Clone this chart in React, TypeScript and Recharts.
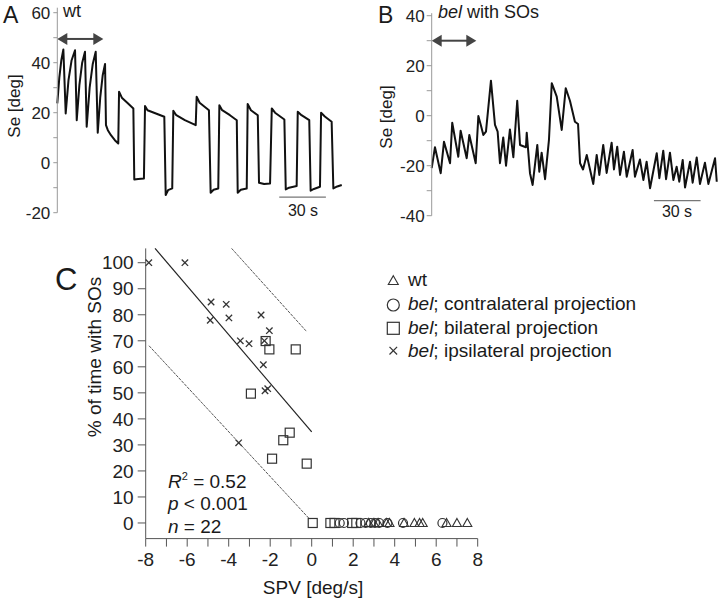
import React from 'react';
import { LineChart, Line, XAxis, YAxis, ReferenceLine, ScatterChart, Scatter } from 'recharts';

const FONT = "'Liberation Sans', Arial, Helvetica, sans-serif";

// Panel A: wt trace (time in s, Se in deg)
const traceATime = [0,1.3,2.6,3.9,5.4,7.2,9.2,11.4,12.5,14.2,16.0,17.8,18.9,20.8,22.8,24.7,26.0,27.6,29.2,30.7,31.3,32.5,34.5,37,39.2,39.7,41.5,45,48.9,49.5,52,55.7,56.4,58,63,68.8,69.7,71.2,73.9,74.6,76.5,82,89.0,89.6,91.5,97.5,98.6,100.5,103.5,104.2,106,111,115.4,116,118,121.8,122.4,124.5,128.9,129.7,133,136.8,137.9,140,146.0,146.9,149,153.9,154.6,157,162.0,162.9,165,168.9,169.6,172,176.4,177.5,180,182.9];
const traceASe = [23.7,34,41,45.3,19.7,33,41,45,17,31,40,44.4,14.4,30,39.5,44.4,12,26,35,39.5,15,13,11,9,7.7,28.4,26,24,21.7,-6.7,-6.5,-6.3,22.7,21,19.8,18.4,-12.9,-11,-10.3,20.8,19,17,15,26.4,24,21,-12,-10.8,-10.3,23,21,19,17,-12,-10.8,-10.3,23.5,21,19,-8,-8.5,-8.3,21.7,20,17.3,-10.7,-10,-9.3,20.4,19,17,-11.2,-10.5,-9.6,20,18.5,16.4,-10.3,-9.5,-8.9];

// Panel B: bel with SOs trace
const traceBTime = [0,2.1,5.8,7.9,11.8,13.2,17.1,18.6,22.5,24.2,28.3,30.0,31.7,33.2,34.9,38.1,40.7,42.4,43.9,46.0,47.8,50.3,52.5,55.0,56.8,60.6,61.1,63.2,64.9,67.9,69.2,70.7,72.9,75.4,77.2,80.4,83.6,86.2,88.9,92.1,94.1,95.4,97.3,99.7,103.9,106.1,107.8,110.3,112.5,115.7,117.2,119.3,121.1,123.6,125.4,129.2,130.7,133.9,136.1,138.2,140.4,144.7,146.4,148.9,150.7,153.2,155.4,157.5,159.2,161.4,162.9,166.1,167.8,170.4,172.5,175.7,177.9,182.2,183.3];
const traceBSe = [-21,-12.6,-23,-10.4,-19,-2.8,-16.4,-6,-17,-7.7,-19,-0.1,-4,-7.7,-6.4,14,-3.7,-6.4,-19,-8.7,-20,-5.5,-16.6,6,-11.7,-12.6,-6.8,-23,-27.7,-11.7,-22.4,-14.8,-25.4,-9.7,13,7.6,-5.7,11,6,-2.4,-3.3,-19,-21.5,-15.7,-27.3,-15.7,-23.7,-11.7,-22.9,-10.8,-21.5,-12.4,-23.7,-14.4,-24.4,-13.7,-24.4,-17.5,-25.7,-18.4,-29,-15,-25,-14,-25.4,-14.8,-25.7,-20.4,-26.4,-17.7,-28.7,-18.4,-26.8,-16.7,-27.3,-18.8,-27.3,-17,-26.4];

const ticksA = [-20,-10,0,10,20,30,40,50,60];
const ticksB = [-40,-30,-20,-10,0,10,20,30,40];
const spvTicks = [-8,-7,-6,-5,-4,-3,-2,-1,0,1,2,3,4,5,6,7,8];
const pctTicks = [0,10,20,30,40,50,60,70,80,90,100];

// Panel C scatter
const ipsiSPV = [-7.85,-6.11,-4.85,-4.12,-4.89,-3.99,-2.44,-2.04,-3.44,-3.02,-2.28,-2.33,-2.25,-2.12,-3.52];
const ipsiPct = [100,100,84.9,84.0,77.9,78.8,79.9,73.9,70.0,68.9,70.0,60.8,50.8,51.6,30.8];
const bilatSPV = [-2.22,-2.04,-0.77,-2.93,-1.06,-1.37,-1.91,-0.24,0.05,0.9,1.1,1.95,2.15];
const bilatPct = [69.9,66.7,66.7,49.7,34.7,31.8,24.7,22.8,0,0,0,0,0];
const contraSPV = [1.35,1.55,2.35,2.6,2.85,3.05,3.25,3.65,4.4,6.3];
const contraPct = [0,0,0,0,0,0,0,0,0,0];
const wtSPV = [2.75,3.0,3.2,3.6,3.75,4.45,4.95,5.2,5.35,6.5,7.0,7.5];
const wtPct = [0,0,0,0,0,0,0,0,0,0,0,0];

const fitSPV = [-7.55, 0];
const fitPct = [105.5, 35];
const upperSPV = [-3.86, -0.24];
const upperPct = [105.5, 73.5];
const lowerSPV = [-7.84, -0.1];
const lowerPct = [68.1, 1.5];

const traceA = traceATime.map((t, i) => ({ t, se: traceASe[i] }));
const traceB = traceBTime.map((t, i) => ({ t, se: traceBSe[i] }));
const zip = (xs: number[], ys: number[]) => xs.map((x, i) => ({ x, y: ys[i] }));

const MK = '#333';
const SquareShape = (p: any) => <rect x={p.cx - 4.5} y={p.cy - 4.5} width={9} height={9} fill="none" stroke={MK} strokeWidth={1.2} />;
const CircleShape = (p: any) => <circle cx={p.cx} cy={p.cy} r={4.5} fill="none" stroke={MK} strokeWidth={1.2} />;
const TriShape = (p: any) => <polygon points={`${p.cx},${p.cy - 4.5} ${p.cx + 4.5},${p.cy + 3.5} ${p.cx - 4.5},${p.cy + 3.5}`} fill="none" stroke={MK} strokeWidth={1.1} />;
const CrossShape = (p: any) => (
  <g stroke={MK} strokeWidth={1.3}>
    <line x1={p.cx - 3.2} y1={p.cy - 3.2} x2={p.cx + 3.2} y2={p.cy + 3.2} />
    <line x1={p.cx - 3.2} y1={p.cy + 3.2} x2={p.cx + 3.2} y2={p.cy - 3.2} />
  </g>
);

const ArrowShape = (p: any) => {
  const { x1, y1, x2, y2 } = p;
  const c = '#444';
  return (
    <g>
      <line x1={x1 + 8} y1={y1} x2={x2 - 8} y2={y2} stroke={c} strokeWidth={2} />
      <polygon points={`${x1},${y1} ${x1 + 10},${y1 - 6} ${x1 + 10},${y1 + 6}`} fill={c} />
      <polygon points={`${x2},${y2} ${x2 - 10},${y2 - 6} ${x2 - 10},${y2 + 6}`} fill={c} />
    </g>
  );
};

const axisGray = '#999';
const tickStyleAB = { fill: '#222', fontSize: 17, fontFamily: FONT };
const tickStyleC = { fill: '#222', fontSize: 19, fontFamily: FONT };

export default function App() {
  return (
    <div style={{ position: 'absolute', left: 0, top: 0, width: 720, height: 600, background: '#fff', overflow: 'hidden' }}>
      <div style={{ position: 'absolute', left: 0, top: 0 }}>
        <LineChart width={360} height={230} data={traceA} margin={{ top: 7.7, right: 7.2, bottom: 17.3, left: 0 }}>
          <XAxis type="number" dataKey="t" domain={[0, 190]} hide />
          <YAxis type="number" domain={[-20, 62]} ticks={ticksA} interval={0} width={57.3}
            tickFormatter={(v: number) => (v % 20 === 0 ? String(v) : '')}
            tickSize={4} tickMargin={3} axisLine={{ stroke: axisGray }} tickLine={{ stroke: axisGray }} tick={tickStyleAB} />
          <Line type="linear" dataKey="se" stroke="#111" strokeWidth={2} strokeLinejoin="round" dot={false} isAnimationActive={false} />
          <ReferenceLine segment={[{ x: 0, y: 49.5 }, { x: 29.6, y: 49.5 }]} ifOverflow="visible" shape={ArrowShape} />
          <ReferenceLine segment={[{ x: 142.7, y: -13.8 }, { x: 172.7, y: -13.8 }]} ifOverflow="visible" stroke="#777" strokeWidth={1.2} />
        </LineChart>
      </div>
      <div style={{ position: 'absolute', left: 360, top: 0 }}>
        <LineChart width={360} height={230} data={traceB} margin={{ top: 13.2, right: 0.6, bottom: 14.3, left: 0 }}>
          <XAxis type="number" dataKey="t" domain={[0, 185]} hide />
          <YAxis type="number" domain={[-40, 41]} ticks={ticksB} interval={0} width={71.7}
            tickFormatter={(v: number) => (v % 20 === 0 ? String(v) : '')}
            tickSize={5} tickMargin={2} axisLine={{ stroke: axisGray }} tickLine={{ stroke: axisGray }} tick={tickStyleAB} />
          <Line type="linear" dataKey="se" stroke="#111" strokeWidth={2} strokeLinejoin="round" dot={false} isAnimationActive={false} />
          <ReferenceLine segment={[{ x: 0, y: 30 }, { x: 28.7, y: 30 }]} ifOverflow="visible" shape={ArrowShape} />
          <ReferenceLine segment={[{ x: 142.9, y: -34 }, { x: 172.9, y: -34 }]} ifOverflow="visible" stroke="#777" strokeWidth={1.2} />
        </LineChart>
      </div>
      <div style={{ position: 'absolute', left: 0, top: 240 }}>
        <ScatterChart width={500} height={360} margin={{ top: 8.4, right: 22.3, bottom: 31.4, left: 0 }}>
          <XAxis type="number" dataKey="x" domain={[-8, 8]} ticks={spvTicks} interval={0} height={30}
            tickFormatter={(v: number) => (v % 2 === 0 ? String(v) : '')}
            tickSize={8} tickMargin={6} axisLine={{ stroke: '#555' }} tickLine={{ stroke: '#555' }} tick={tickStyleC} />
          <YAxis type="number" dataKey="y" domain={[-6, 105.5]} ticks={pctTicks} interval={0} width={145.7}
            tickSize={8} tickMargin={4} axisLine={{ stroke: '#555' }} tickLine={{ stroke: '#555' }} tick={tickStyleC} />
          <ReferenceLine segment={zip(fitSPV, fitPct)} ifOverflow="visible" stroke="#222" strokeWidth={1.2} />
          <ReferenceLine segment={zip(upperSPV, upperPct)} ifOverflow="visible" stroke="#444" strokeWidth={0.9} strokeDasharray="3 1" />
          <ReferenceLine segment={zip(lowerSPV, lowerPct)} ifOverflow="visible" stroke="#444" strokeWidth={0.9} strokeDasharray="3 1" />
          <Scatter data={zip(wtSPV, wtPct)} shape={TriShape} isAnimationActive={false} />
          <Scatter data={zip(contraSPV, contraPct)} shape={CircleShape} isAnimationActive={false} />
          <Scatter data={zip(bilatSPV, bilatPct)} shape={SquareShape} isAnimationActive={false} />
          <Scatter data={zip(ipsiSPV, ipsiPct)} shape={CrossShape} isAnimationActive={false} />
        </ScatterChart>
      </div>
      <svg width={720} height={600} style={{ position: 'absolute', left: 0, top: 0, pointerEvents: 'none' }} fontFamily={FONT} fill="#1a1a1a">
        <text x={3} y={23.3} fontSize={23}>A</text>
        <text x={378} y={23.3} fontSize={23}>B</text>
        <text x={55} y={290} fontSize={31}>C</text>

        <text x={63} y={16.7} fontSize={18}>wt</text>
        <text x={438} y={18.3} fontSize={18}><tspan fontStyle="italic">bel</tspan> with SOs</text>

        <text x={20} y={106} fontSize={17} textAnchor="middle" transform="rotate(-90 20 106)">Se [deg]</text>
        <text x={391.5} y={117} fontSize={17} textAnchor="middle" transform="rotate(-90 391.5 117)">Se [deg]</text>

        <text x={303} y={216} fontSize={16} textAnchor="middle">30 s</text>
        <text x={677} y={216.7} fontSize={16} textAnchor="middle">30 s</text>

        <text x={101} y={357} fontSize={19} textAnchor="middle" transform="rotate(-90 101 357)">% of time with SOs</text>
        <text x={313} y={594} fontSize={19} textAnchor="middle">SPV [deg/s]</text>

        <text x={168} y={487.7} fontSize={19}><tspan fontStyle="italic">R</tspan><tspan fontSize={11} dy={-8}>2</tspan><tspan dy={8}> = 0.52</tspan></text>
        <text x={168} y={510} fontSize={19}><tspan fontStyle="italic">p</tspan> &lt; 0.001</text>
        <text x={168} y={532.7} fontSize={19}><tspan fontStyle="italic">n</tspan> = 22</text>

        <polygon points="393.3,275.7 398.3,284.5 388.3,284.5" fill="none" stroke={MK} strokeWidth={1.1} />
        <circle cx={393.3} cy={305} r={6} fill="none" stroke={MK} strokeWidth={1.2} />
        <rect x={387.3} y={322.3} width={12} height={12} fill="none" stroke={MK} strokeWidth={1.2} />
        <g stroke={MK} strokeWidth={1.2}>
          <line x1={389.5} y1={346.9} x2={397.1} y2={354.5} />
          <line x1={389.5} y1={354.5} x2={397.1} y2={346.9} />
        </g>
        <text x={408} y={286} fontSize={19}>wt</text>
        <text x={408} y={310} fontSize={19}><tspan fontStyle="italic">bel</tspan>; contralateral projection</text>
        <text x={408} y={334} fontSize={19}><tspan fontStyle="italic">bel</tspan>; bilateral projection</text>
        <text x={408} y={357} fontSize={19}><tspan fontStyle="italic">bel</tspan>; ipsilateral projection</text>
      </svg>
    </div>
  );
}
